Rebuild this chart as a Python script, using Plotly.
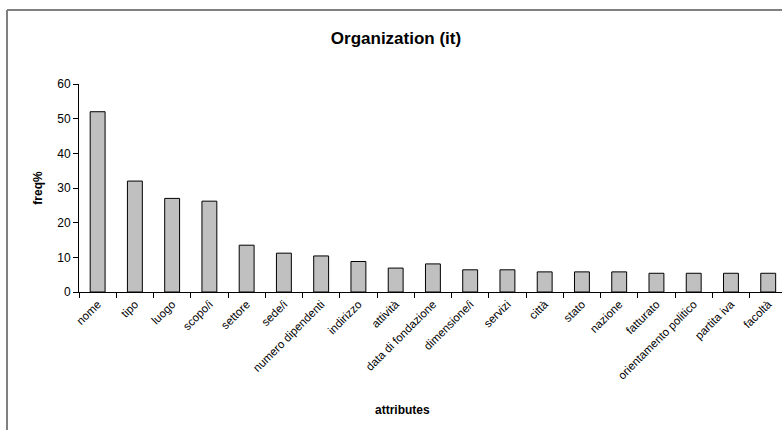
import plotly.graph_objects as go

categories = ["nome", "tipo", "luogo", "scopo/i", "settore", "sede/i",
              "numero dipendenti", "indirizzo", "attività", "data di fondazione",
              "dimensione/i", "servizi", "città", "stato", "nazione", "fatturato",
              "orientamento politico", "partita iva", "facoltà"]
freq = [52.0, 32.0, 27.0, 26.2, 13.5, 11.2, 10.4, 8.8, 6.9, 8.1,
        6.4, 6.4, 5.8, 5.8, 5.8, 5.4, 5.4, 5.4, 5.4]
y_ticks = [0, 10, 20, 30, 40, 50, 60]

W, H = 782, 430
L, T, B, R = 79, 84, 138, 0
pw = W - L - R
ph = H - T - B

fig = go.Figure(go.Bar(
    x=categories, y=freq, width=0.4,
    marker=dict(color="#c0c0c0", line=dict(color="#000000", width=1)),
))

def px_x(p):
    return (p - L) / pw

def px_y(p):
    return (H - B - p) / ph

fig.update_layout(
    width=W, height=H,
    margin=dict(l=L, r=R, t=T, b=B),
    paper_bgcolor="white", plot_bgcolor="white",
    font=dict(family="Liberation Sans, Arial", color="black", size=11),
    showlegend=False,
    title=dict(text="<b>Organization (it)</b>", x=396 / W, xanchor="center",
               y=1 - 38 / H, yanchor="middle", font=dict(size=17)),
    xaxis=dict(
        type="category", range=[-0.5, 18.37], tickson="boundaries",
        ticks="outside", ticklen=5, tickcolor="black", showline=True,
        linecolor="black", linewidth=1, showgrid=False, tickangle=-45,
        tickfont=dict(size=11.5), automargin=False,
    ),
    yaxis=dict(
        range=[0, 60], tickvals=y_ticks, ticks="outside", ticklen=5,
        tickcolor="black", showline=True, linecolor="black", linewidth=1,
        showgrid=False, zeroline=False, tickfont=dict(size=12),
        title=dict(text="<b>freq%</b>", font=dict(size=12), standoff=12),
    ),
    annotations=[
        dict(text="<b>attributes</b>", xref="paper", yref="paper",
             x=px_x(402), y=px_y(410), xanchor="center", yanchor="middle",
             showarrow=False, font=dict(size=12)),
    ],
    shapes=[
        dict(type="line", xref="paper", yref="paper",
             x0=px_x(7), x1=px_x(7), y0=px_y(10), y1=px_y(440),
             line=dict(color="#808080", width=2)),
        dict(type="line", xref="paper", yref="paper",
             x0=px_x(7), x1=px_x(800), y0=px_y(10), y1=px_y(10),
             line=dict(color="#808080", width=2)),
    ],
)

fig.write_html("out.html")
